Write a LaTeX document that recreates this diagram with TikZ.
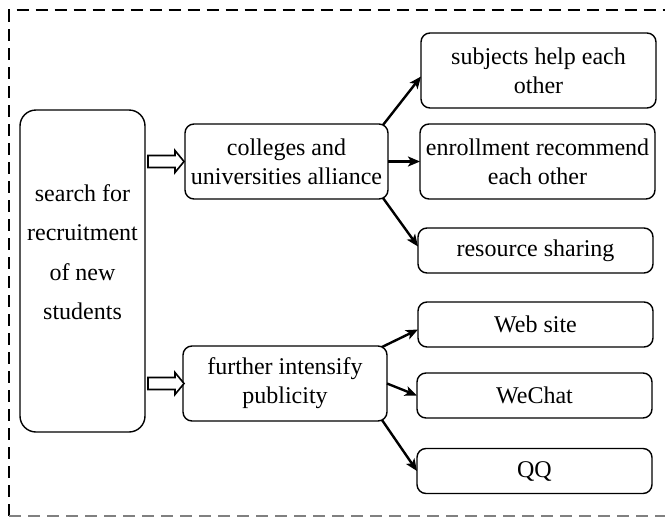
\documentclass[tikz,border=0pt]{standalone}
\usepackage{fontspec}
\setmainfont{Liberation Serif}
\usetikzlibrary{calc,arrows.meta}

\tikzset{
	box/.style={draw, line width=1.4pt, rounded corners=9pt, inner sep=0pt, outer sep=0pt, align=center, font=\fontsize{24}{29}\selectfont},
	bigbox/.style={box, rounded corners=16pt},
	link/.style={-{Stealth[length=12pt,width=10pt,inset=3pt]}, line width=2.4pt},
	hollow/.style={draw, line width=1.6pt, fill=white},
	frame/.style={line width=2.8pt, dash pattern=on 12pt off 7pt},
}

\begin{document}
\begin{tikzpicture}[x=1pt,y=-1pt]
	\useasboundingbox (0,0) rectangle (665,517);
	\draw[frame] (9,515.5) -- (9,10) -- (670,10);
	\draw[frame, line width=1.6pt, gray] (9,515.8) -- (670,515.8);
	% left
	\node[bigbox, minimum width=125pt, minimum height=322pt] (search) at (82.5,271) {};
	\node[align=center, font=\fontsize{24}{39.5}\selectfont] (searchtext) at (82.5,252) {search for\\recruitment\\of new\\students};
	% middle
	\node[box, minimum width=203pt, minimum height=75pt] (colleges) at (286.5,161.5) {colleges and\\universities alliance};
	\node[box, minimum width=204pt, minimum height=75pt] (further) at (285,383.5) {further intensify\\publicity};
	% right
	\node[box, minimum width=235pt, minimum height=75pt] (subjects) at (538.5,70.5) {subjects help each\\other};
	\node[box, minimum width=235pt, minimum height=75pt] (enrollment) at (537.5,161.5) {enrollment recommend\\each other};
	\node[box, minimum width=235pt, minimum height=45pt] (resource) at (535.5,250.5) {resource sharing};
	\node[box, minimum width=235pt, minimum height=45pt] (web) at (535.5,324.5) {Web site};
	\node[box, minimum width=235pt, minimum height=45pt] (wechat) at (534.5,395.5) {WeChat};
	\node[box, minimum width=235pt, minimum height=45pt] (qq) at (534.5,471) {QQ};
	% hollow arrows
	\draw[hollow] ($(search.east |- colleges.west)+(3,-6)$) -- ++(27,0) -- ++(0,-5) -- ++(9,11) -- ++(-9,11) -- ++(0,-5) -- ++(-27,0) -- cycle;
	\draw[hollow] ($(search.east |- further.west)+(3,-6)$) -- ++(27,0) -- ++(0,-5) -- ++(9,11) -- ++(-9,11) -- ++(0,-5) -- ++(-27,0) -- cycle;
	% links
	\draw[link] ($(colleges.north east)+(-5,1)$) -- ($(subjects.west)+(0,6)$);
	\draw[link] (colleges.east) -- (enrollment.west);
	\draw[link] ($(colleges.south east)+(-5,-1)$) -- ($(resource.west)+(0,-4)$);
	\draw[link] ($(further.north east)+(-5,1)$) -- ($(web.west)+(0,5)$);
	\draw[link] (further.east) -- (wechat.west);
	\draw[link] ($(further.south east)+(-5,-1)$) -- (qq.west);
\end{tikzpicture}
\end{document}
